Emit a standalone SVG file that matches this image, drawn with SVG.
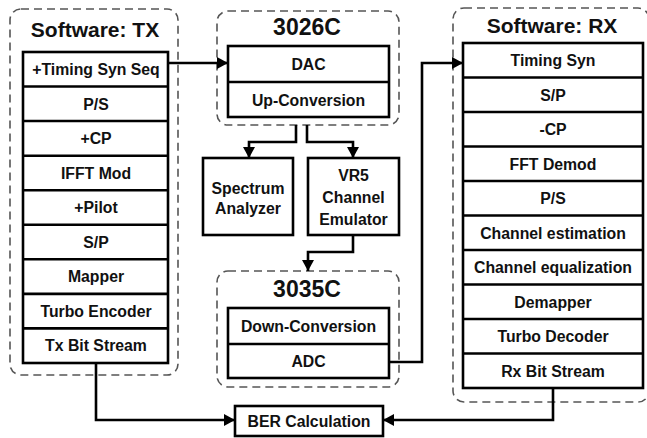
<svg xmlns="http://www.w3.org/2000/svg" width="647" height="438" viewBox="0 0 647 438">
<defs>
<marker id="arr" markerUnits="userSpaceOnUse" markerWidth="12" markerHeight="12" refX="11" refY="6" orient="auto">
<path d="M0,0 L11,6 L0,12 z" fill="#000"/>
</marker>
<style>
.cont{fill:none;stroke:#555;stroke-width:1.6;stroke-dasharray:8 5}
.box{fill:#fff;stroke:#000;stroke-width:2.6}
.sep{stroke:#000;stroke-width:2.6}
.t{font-family:"Liberation Sans",Arial,sans-serif;font-weight:bold;font-size:15.8px;fill:#111;text-anchor:middle}
.ttl{font-family:"Liberation Sans",Arial,sans-serif;font-weight:bold;font-size:21px;fill:#111;text-anchor:middle}
.big{font-family:"Liberation Sans",Arial,sans-serif;font-weight:bold;font-size:23px;fill:#111;text-anchor:middle}
.c{fill:none;stroke:#000;stroke-width:2.6;marker-end:url(#arr)}
</style>
</defs>
<rect width="647" height="438" fill="#fff"/>

<g id="tx">
<rect class="cont" x="10" y="9" width="168" height="366" rx="11"/>
<text class="ttl" x="95" y="37">Software: TX</text>
<rect class="box" x="23" y="52" width="145" height="311"/>
<line class="sep" x1="23" y1="86.5" x2="168" y2="86.5"/>
<line class="sep" x1="23" y1="121" x2="168" y2="121"/>
<line class="sep" x1="23" y1="155.7" x2="168" y2="155.7"/>
<line class="sep" x1="23" y1="190.2" x2="168" y2="190.2"/>
<line class="sep" x1="23" y1="224.8" x2="168" y2="224.8"/>
<line class="sep" x1="23" y1="259.3" x2="168" y2="259.3"/>
<line class="sep" x1="23" y1="293.9" x2="168" y2="293.9"/>
<line class="sep" x1="23" y1="328.4" x2="168" y2="328.4"/>
<text class="t" x="96" y="75">+Timing Syn Seq</text>
<text class="t" x="96" y="109.5">P/S</text>
<text class="t" x="96" y="144">+CP</text>
<text class="t" x="96" y="178.5">IFFT Mod</text>
<text class="t" x="96" y="213">+Pilot</text>
<text class="t" x="96" y="247.5">S/P</text>
<text class="t" x="96" y="282">Mapper</text>
<text class="t" x="96" y="316.5">Turbo Encoder</text>
<text class="t" x="96" y="351">Tx Bit Stream</text>
</g>

<g id="c3026">
<rect class="cont" x="217" y="11" width="182" height="114" rx="11"/>
<text class="big" x="307" y="35">3026C</text>
<rect class="box" x="228" y="46" width="161" height="71"/>
<line class="sep" x1="228" y1="82" x2="389" y2="82"/>
<text class="t" x="308.5" y="69.5">DAC</text>
<text class="t" x="308.5" y="105.5">Up-Conversion</text>
</g>

<g id="spectrum">
<rect class="box" x="203" y="158" width="90" height="77"/>
<text class="t" x="248" y="194">Spectrum</text>
<text class="t" x="248" y="214">Analyzer</text>
</g>

<g id="vr5">
<rect class="box" x="308" y="158" width="91" height="77"/>
<text class="t" x="353.5" y="181">VR5</text>
<text class="t" x="353.5" y="203">Channel</text>
<text class="t" x="353.5" y="225">Emulator</text>
</g>

<g id="c3035">
<rect class="cont" x="217" y="271" width="182" height="116" rx="11"/>
<text class="big" x="307" y="297">3035C</text>
<rect class="box" x="228" y="308" width="161" height="70"/>
<line class="sep" x1="228" y1="344" x2="389" y2="344"/>
<text class="t" x="308.5" y="332">Down-Conversion</text>
<text class="t" x="308.5" y="367">ADC</text>
</g>

<g id="rx">
<rect class="cont" x="453" y="8" width="196" height="394" rx="11"/>
<text class="ttl" x="552" y="33">Software: RX</text>
<rect class="box" x="463" y="43" width="180" height="345"/>
<line class="sep" x1="463" y1="77.5" x2="643" y2="77.5"/>
<line class="sep" x1="463" y1="112" x2="643" y2="112"/>
<line class="sep" x1="463" y1="146.5" x2="643" y2="146.5"/>
<line class="sep" x1="463" y1="181" x2="643" y2="181"/>
<line class="sep" x1="463" y1="215.5" x2="643" y2="215.5"/>
<line class="sep" x1="463" y1="250" x2="643" y2="250"/>
<line class="sep" x1="463" y1="284.5" x2="643" y2="284.5"/>
<line class="sep" x1="463" y1="319" x2="643" y2="319"/>
<line class="sep" x1="463" y1="353.5" x2="643" y2="353.5"/>
<text class="t" x="553" y="66">Timing Syn</text>
<text class="t" x="553" y="100.5">S/P</text>
<text class="t" x="553" y="135">-CP</text>
<text class="t" x="553" y="169.5">FFT Demod</text>
<text class="t" x="553" y="204">P/S</text>
<text class="t" x="553" y="238.5">Channel estimation</text>
<text class="t" x="553" y="273">Channel equalization</text>
<text class="t" x="553" y="307.5">Demapper</text>
<text class="t" x="553" y="342">Turbo Decoder</text>
<text class="t" x="553" y="376.5">Rx Bit Stream</text>
</g>

<g id="ber">
<rect class="box" x="235" y="406" width="148" height="30"/>
<text class="t" x="309" y="427">BER Calculation</text>
</g>

<g id="connectors">
<path class="c" d="M168,63 H228"/>
<path class="c" d="M389,362 H422 V63 H463"/>
<path class="c" d="M296,125 V142 H249 V158"/>
<path class="c" d="M307,125 V142 H353 V158"/>
<path class="c" d="M353,235 V252 H308 V271"/>
<path class="c" d="M96,363 V420 H235"/>
<path class="c" d="M553,388 V420 H383"/>
</g>
</svg>
